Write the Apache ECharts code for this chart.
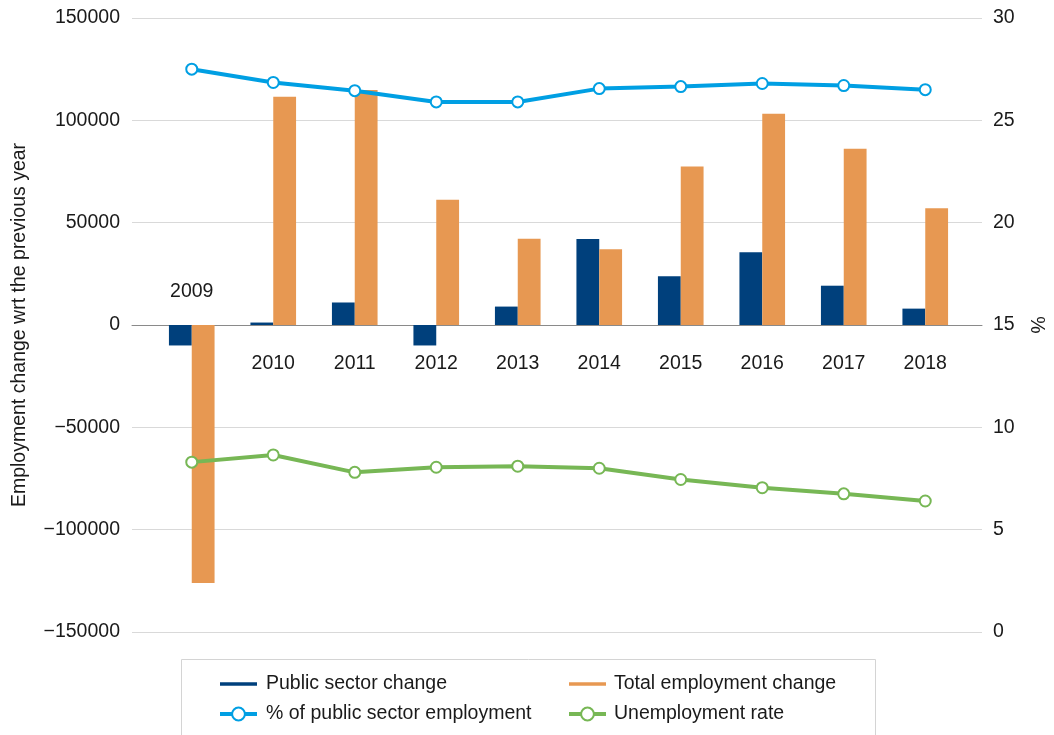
<!DOCTYPE html>
<html>
<head>
<meta charset="utf-8">
<title>Employment change and public sector share, 2009–2018</title>
<script src="https://cdn.jsdelivr.net/npm/echarts@6/dist/echarts.min.js"></script>
<style>
  html, body { margin: 0; padding: 0; background: #ffffff; }
  #chart { width: 1054px; height: 735px; }
</style>
</head>
<body>
<div id="chart"></div>
<script>
// Years on the category axis
const categories = ['2009', '2010', '2011', '2012', '2013', '2014', '2015', '2016', '2017', '2018'];

// Employment change versus the previous year (persons)
const publicSectorChange = [-10000, 1200, 11000, -10000, 9000, 42000, 23800, 35500, 19200, 8000];
const totalEmploymentChange = [-126000, 111500, 114800, 61200, 42200, 37000, 77500, 103200, 86100, 57000];

// Rates in percent (right axis)
const publicSectorShare = [27.5, 26.85, 26.45, 25.9, 25.9, 26.55, 26.65, 26.8, 26.7, 26.5];
const unemploymentRate = [8.3, 8.65, 7.8, 8.05, 8.1, 8.0, 7.45, 7.05, 6.75, 6.4];

// Axis ticks
const leftTicks = { min: -150000, max: 150000, interval: 50000 };
const rightTicks = { min: 0, max: 30, interval: 5 };

const FONT = "'Liberation Sans', Arial, sans-serif";
const TEXT = '#1a1a1a';
const GRID = '#d9d9d9';

const C_PUBLIC = '#00407c';
const C_TOTAL = '#e79852';
const C_SHARE = '#009fe3';
const C_UNEMP = '#77b755';

// plain integers with a typographic minus sign
const plainNumber = (v) => (v < 0 ? '\u2212' + Math.abs(v) : String(v));

const chart = echarts.init(document.getElementById('chart'), null, { renderer: 'canvas' });

const barLegendIcon = 'path://M0,0L0,0M0,16L0,16M0,6H40V10H0Z';

// year labels hang off the zero line: below it, except the first year which sits above
const yearLabelData = categories.map((c, i) => ({
  value: [c, 0],
  label: i === 0 ? { position: 'top', distance: 23 } : { position: 'bottom', distance: 29 }
}));

const option = {
  backgroundColor: '#ffffff',
  animation: false,
  textStyle: { fontFamily: FONT, color: TEXT },
  grid: [
    // full-width frame carrying the value axes and gridlines
    { left: 132, right: 69, top: 18, bottom: 103 },
    // category band for bars and lines
    { left: 151, right: 88, top: 18, bottom: 103 }
  ],
  xAxis: [
    {
      gridIndex: 0, type: 'value', min: 0, max: 1,
      axisLine: { show: true, onZero: true, lineStyle: { color: '#8a8a8a', width: 1 } },
      axisTick: { show: false }, axisLabel: { show: false }, splitLine: { show: false }
    },
    {
      gridIndex: 1, type: 'category', data: categories,
      axisLine: { show: false }, axisTick: { show: false },
      axisLabel: { show: false }, splitLine: { show: false }
    }
  ],
  yAxis: [
    {
      gridIndex: 0, type: 'value', position: 'left',
      min: leftTicks.min, max: leftTicks.max, interval: leftTicks.interval,
      name: 'Employment change wrt the previous year',
      nameLocation: 'middle', nameGap: 102,
      nameTextStyle: { fontSize: 19.5, color: TEXT, fontFamily: FONT },
      axisLine: { show: false }, axisTick: { show: false },
      axisLabel: { margin: 12, fontSize: 19.5, color: TEXT, fontFamily: FONT, formatter: plainNumber },
      splitLine: { show: true, lineStyle: { color: GRID, width: 1 } }
    },
    {
      gridIndex: 0, type: 'value', position: 'right',
      min: rightTicks.min, max: rightTicks.max, interval: rightTicks.interval,
      name: '%', nameLocation: 'middle', nameGap: 44, nameRotate: -90,
      nameTextStyle: { fontSize: 19.5, color: TEXT, fontFamily: FONT },
      axisLine: { show: false }, axisTick: { show: false },
      axisLabel: { margin: 11, fontSize: 19.5, color: TEXT, fontFamily: FONT, formatter: plainNumber },
      splitLine: { show: false }
    },
    {
      gridIndex: 1, type: 'value', show: false,
      min: leftTicks.min, max: leftTicks.max, interval: leftTicks.interval,
      splitLine: { show: false }
    },
    {
      gridIndex: 1, type: 'value', show: false,
      min: rightTicks.min, max: rightTicks.max, interval: rightTicks.interval,
      splitLine: { show: false }
    }
  ],
  legend: [
    {
      orient: 'vertical', left: 213, top: 669, itemGap: 10,
      itemWidth: 37, itemHeight: 16,
      textStyle: { fontSize: 19.5, color: TEXT, fontFamily: FONT, lineHeight: 20, padding: [0, 0, 0, 4] },
      data: [
        { name: 'Public sector change', icon: barLegendIcon },
        { name: '% of public sector employment', lineStyle: { width: 4 }, itemStyle: { borderWidth: 3 } }
      ]
    },
    {
      orient: 'vertical', left: 562, top: 669, itemGap: 10,
      itemWidth: 37, itemHeight: 16,
      textStyle: { fontSize: 19.5, color: TEXT, fontFamily: FONT, lineHeight: 20, padding: [0, 0, 0, 3] },
      data: [
        { name: 'Total employment change', icon: barLegendIcon },
        { name: 'Unemployment rate', lineStyle: { width: 4 }, itemStyle: { borderWidth: 3 } }
      ]
    }
  ],
  graphic: [
    {
      type: 'rect', silent: true, z: -1,
      shape: { x: 181.5, y: 659.5, width: 694, height: 80 },
      style: { fill: 'none', stroke: '#d4d4d4', lineWidth: 1 }
    }
  ],
  series: [
    {
      name: 'Public sector change', type: 'bar', xAxisIndex: 1, yAxisIndex: 2,
      data: publicSectorChange, barGap: '0%', barCategoryGap: '44%',
      itemStyle: { color: C_PUBLIC }
    },
    {
      name: 'Total employment change', type: 'bar', xAxisIndex: 1, yAxisIndex: 2,
      data: totalEmploymentChange, barGap: '0%', barCategoryGap: '44%',
      itemStyle: { color: C_TOTAL }
    },
    {
      name: '% of public sector employment', type: 'line', xAxisIndex: 1, yAxisIndex: 3,
      data: publicSectorShare,
      symbol: 'emptyCircle', symbolSize: 11,
      lineStyle: { color: C_SHARE, width: 4 },
      itemStyle: { color: C_SHARE, borderColor: C_SHARE, borderWidth: 3 }
    },
    {
      name: 'Unemployment rate', type: 'line', xAxisIndex: 1, yAxisIndex: 3,
      data: unemploymentRate,
      symbol: 'emptyCircle', symbolSize: 11,
      lineStyle: { color: C_UNEMP, width: 4 },
      itemStyle: { color: C_UNEMP, borderColor: C_UNEMP, borderWidth: 3 }
    },
    {
      name: 'yearLabels', type: 'scatter', xAxisIndex: 1, yAxisIndex: 2,
      data: yearLabelData, symbolSize: 0, silent: true, z: 5,
      label: {
        show: true,
        formatter: (p) => p.name || p.value[0],
        fontSize: 19.5, color: TEXT, fontFamily: FONT, opacity: 1
      },
      emphasis: { disabled: true }
    }
  ]
};

chart.setOption(option);
</script>
</body>
</html>
